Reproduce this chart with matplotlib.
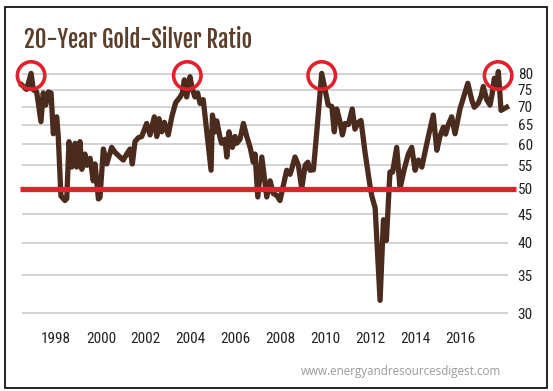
import matplotlib
matplotlib.use("Agg")
import matplotlib.pyplot as plt
from matplotlib.patches import Rectangle
from matplotlib.ticker import FixedLocator, NullLocator

# gold/silver ratio (x in chart years)
years = [1996.47, 1996.69, 1996.89, 1996.99, 1997.14, 1997.33, 1997.43, 1997.54, 1997.66, 1997.78,
         1997.88, 1998.03, 1998.10, 1998.22, 1998.40, 1998.48, 1998.58, 1998.70, 1998.85, 1998.92,
         1999.07, 1999.15, 1999.29, 1999.37, 1999.52, 1999.66, 1999.74, 1999.89, 1999.96, 2000.11,
         2000.26, 2000.48, 2000.63, 2000.85, 2001.00, 2001.15, 2001.30, 2001.40, 2001.52, 2001.67,
         2001.82, 2002.04, 2002.19, 2002.38, 2002.49, 2002.59, 2002.71, 2002.83, 2003.00, 2003.16,
         2003.33, 2003.53, 2003.63, 2003.72, 2003.82, 2003.97, 2004.07, 2004.19, 2004.31, 2004.42,
         2004.56, 2004.91, 2004.97, 2005.09, 2005.16, 2005.31, 2005.38, 2005.53, 2005.61, 2005.71,
         2005.86, 2005.98, 2006.05, 2006.20, 2006.35, 2006.50, 2006.65, 2006.79, 2006.87, 2006.99,
         2007.17, 2007.39, 2007.54, 2007.68, 2007.84, 2007.98, 2008.13, 2008.28, 2008.43, 2008.50,
         2008.65, 2008.80, 2008.95, 2009.10, 2009.22, 2009.32, 2009.47, 2009.62, 2009.84, 2009.99,
         2010.13, 2010.29, 2010.40, 2010.51, 2010.66, 2010.76, 2010.88, 2011.03, 2011.20, 2011.32,
         2011.47, 2011.59, 2011.77, 2011.99, 2012.07, 2012.22, 2012.44, 2012.59, 2012.72, 2012.88,
         2013.00, 2013.18, 2013.33, 2013.51, 2013.70, 2013.85, 2014.00, 2014.15, 2014.30, 2014.44,
         2014.59, 2014.81, 2014.97, 2015.11, 2015.26, 2015.36, 2015.48, 2015.63, 2015.78, 2016.00,
         2016.22, 2016.35, 2016.52, 2016.64, 2016.82, 2016.94, 2017.04, 2017.19, 2017.34, 2017.44,
         2017.53, 2017.64, 2017.71, 2017.83, 2018.08]
ratio = [76.5, 75.1, 80.2, 75.0, 74.3, 65.8, 74.0, 70.4, 74.3, 74.0,
         62.6, 67.1, 62.0, 48.5, 47.6, 48.0, 60.6, 54.6, 60.2, 54.6,
         60.6, 54.1, 57.6, 55.0, 56.6, 51.6, 55.3, 47.9, 48.2, 58.8,
         55.3, 59.2, 58.0, 56.9, 56.2, 57.6, 58.8, 55.3, 60.6, 61.6,
         61.9, 65.3, 62.3, 67.1, 61.9, 66.6, 63.1, 65.6, 62.3, 67.1,
         71.1, 72.8, 74.0, 78.1, 72.8, 79.1, 75.4, 72.8, 74.0, 70.9,
         72.0, 53.9, 67.6, 63.1, 66.0, 61.6, 60.2, 61.2, 56.9, 63.1,
         59.2, 61.9, 60.2, 61.2, 65.3, 61.9, 59.2, 55.7, 57.6, 48.3,
         56.9, 48.3, 51.6, 49.0, 48.6, 47.6, 50.6, 53.9, 53.0, 54.1,
         56.9, 55.0, 50.0, 55.0, 55.7, 53.9, 54.0, 63.1, 80.2, 75.0,
         70.4, 70.0, 63.1, 69.3, 65.6, 62.3, 65.3, 65.0, 69.3, 63.8,
         65.6, 66.1, 58.0, 50.6, 48.5, 46.2, 31.6, 44.0, 40.4, 53.5,
         53.5, 59.2, 50.0, 54.0, 57.6, 59.2, 53.9, 56.2, 54.6, 58.0,
         61.9, 67.6, 58.5, 62.0, 64.3, 62.5, 65.0, 67.1, 62.6, 69.3,
         74.0, 77.0, 72.0, 69.8, 71.0, 73.0, 76.0, 72.0, 70.4, 74.0,
         78.6, 76.0, 80.8, 68.9, 69.8]

year_ticks = [1998, 2000, 2002, 2004, 2006, 2008, 2010, 2012, 2014, 2016]
ratio_ticks = [30, 35, 40, 45, 50, 55, 60, 65, 70, 75, 80]
support_level = 50
peak_years = [1996.89, 2003.85, 2009.84, 2017.70]
peak_level = 79.5

brown = "#4a2b1d"
red = "#e3202b"
title_col = "#5c3f2b"
narrow = ["Roboto Condensed", "DejaVu Sans"]

fig = plt.figure(figsize=(5.53, 3.91), dpi=100)
ax = fig.add_axes([22 / 553, 0.1783, 486 / 553, 0.6629])
ax.set_yscale("log")
ax.set_xlim(1996.485, 2018.14)
ax.set_ylim(29, 84)

for v in ratio_ticks:
    ax.axhline(v, color="#c8c8c8", lw=1.1, zorder=1)

x0, x1 = ax.get_xlim()
ax.hlines(support_level, x0 - 0.08, x1 + 0.36, color=red, lw=3.8, zorder=3, clip_on=False)
ax.plot(years, ratio, color=brown, lw=3.8, solid_joinstyle="round", zorder=2, clip_on=False)
ax.scatter(peak_years, [peak_level] * len(peak_years), s=390, facecolors="none",
           edgecolors=red, linewidths=2.6, zorder=4, clip_on=False)

for s in ax.spines.values():
    s.set_visible(False)
ax.yaxis.tick_right()
ax.yaxis.set_major_locator(FixedLocator(ratio_ticks))
ax.yaxis.set_minor_locator(NullLocator())
ax.set_yticklabels([str(v) for v in ratio_ticks])
ax.set_xticks(year_ticks)
ax.set_xticklabels([str(y) for y in year_ticks])
ax.tick_params(axis="y", length=0, pad=7, labelsize=11, labelcolor="#222222")
ax.tick_params(axis="x", length=0, pad=8, labelsize=11, labelcolor="#222222")
for lab in ax.get_xticklabels() + ax.get_yticklabels():
    lab.set_family(narrow)

title = fig.text(24 / 553, 1 - 48 / 391, "20-Year Gold-Silver Ratio",
                 family=["Fjalla One", "Roboto Condensed", "DejaVu Sans"],
                 fontweight="bold", fontsize=19, color=title_col, ha="left", va="baseline")
# squeeze the title to the width it has in the picture (~228 px)
r = fig.canvas.get_renderer()
w = title.get_window_extent(r).width
title.set_fontsize(19 * min(1.0, 228 / w))

fig.text(501 / 553, 1 - 372 / 391, "www.energyandresourcesdigest.com",
         family=["Open Sans", "DejaVu Sans"], fontsize=8.4, color="#9a9a9a",
         ha="right", va="center")
fig.patches.append(Rectangle((5 / 553, 1 - 388 / 391), 542 / 553, 381 / 391,
                             transform=fig.transFigure, fill=False, ec="black", lw=1.2))

fig.savefig("out.png", dpi=100)
